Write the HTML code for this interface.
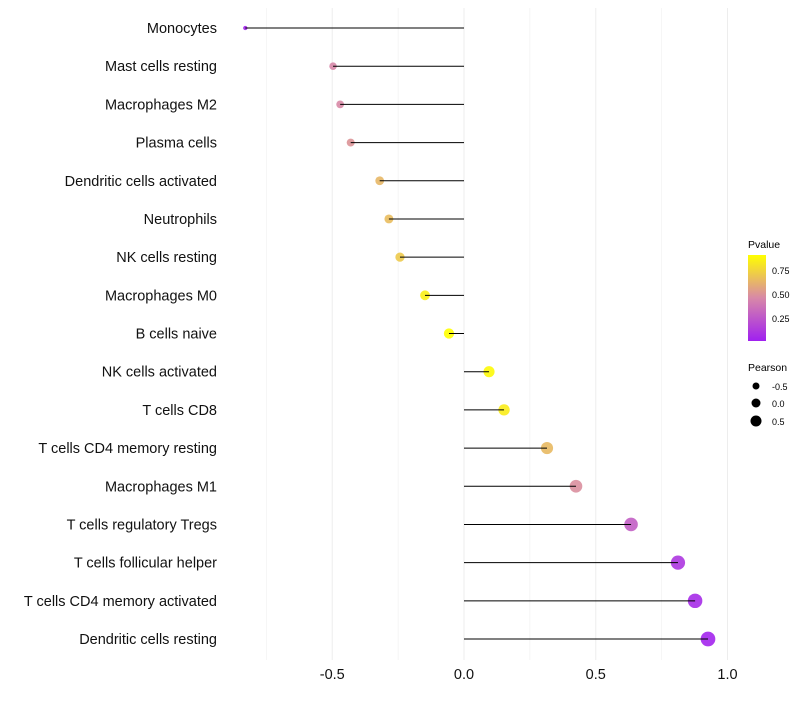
<!DOCTYPE html>
<html><head><meta charset="utf-8"><style>
body{margin:0;background:#fff;font-family:"Liberation Sans",sans-serif}
</style></head><body>
<svg id="chart" width="800" height="700">
<defs><linearGradient id="pg" x1="0" y1="1" x2="0" y2="0">
<stop offset="0" stop-color="#a020f0"/><stop offset="0.5" stop-color="#d888a8"/><stop offset="1" stop-color="#ffff00"/>
</linearGradient></defs>
<g id="grid"></g><g id="dots"></g><g id="marks"></g><g id="labels"></g>
<g font-size="10">
<text x="748" y="248" font-size="10.5">Pvalue</text>
<rect x="748" y="255" width="18" height="86" fill="url(#pg)"/>
<text x="772" y="274" font-size="9">0.75</text><text x="772" y="298" font-size="9">0.50</text><text x="772" y="322" font-size="9">0.25</text>
<text x="748" y="371" font-size="10.5">Pearson</text>
<circle cx="756" cy="386" r="3.5" fill="#000"/><text x="772" y="390" font-size="9">-0.5</text>
<circle cx="756" cy="403" r="4.5" fill="#000"/><text x="772" y="407" font-size="9">0.0</text>
<circle cx="756" cy="421" r="5.5" fill="#000"/><text x="772" y="425" font-size="9">0.5</text>
</g>
</svg>
<script>
const cells=["Monocytes","Mast cells resting","Macrophages M2","Plasma cells","Dendritic cells activated","Neutrophils","NK cells resting","Macrophages M0","B cells naive","NK cells activated","T cells CD8","T cells CD4 memory resting","Macrophages M1","T cells regulatory  Tregs ","T cells follicular helper","T cells CD4 memory activated","Dendritic cells resting"];
const pearson=[-0.83,-0.497,-0.47,-0.43,-0.32,-0.285,-0.243,-0.148,-0.057,0.095,0.152,0.315,0.425,0.634,0.812,0.877,0.926];
const pvalue=[0.05,0.47,0.48,0.52,0.65,0.67,0.72,0.86,0.95,0.9,0.85,0.66,0.5,0.3,0.13,0.08,0.05];
const xTicks=[-0.5,0,0.5,1.0];
const xTickLabels=["-0.5","0.0","0.5","1.0"];
const NS="http://www.w3.org/2000/svg";
function xs(v){return 464+v*263.5;}
function ys(i){return 28+i*(611/16);}
function rs(p){return Math.max(1.5,Math.sqrt(Math.max(0,28+28*p)));}
function mix(a,b,t){return a.map((v,i)=>Math.round(v+(b[i]-v)*t));}
function col(p){const t=Math.min(1,Math.max(0,(p-0.03)/0.89));const A=[160,32,240],M=[216,136,168],B=[255,255,0];
const c=t<0.5?mix(A,M,t*2):mix(M,B,(t-0.5)*2);return `rgb(${c})`;}
function el(t,a,p){const e=document.createElementNS(NS,t);for(const k in a)e.setAttribute(k,a[k]);p.appendChild(e);return e;}
const grid=document.getElementById('grid'),marks=document.getElementById('marks'),dots=document.getElementById('dots'),labels=document.getElementById('labels');
[-0.75,-0.25,0.25,0.75].forEach(v=>{const l=el('line',{x1:xs(v),x2:xs(v),y1:8,y2:660,stroke:'#f2f2f2','stroke-width':0.7},grid);

});
xTicks.forEach((v,i)=>{const l=el('line',{x1:xs(v),x2:xs(v),y1:8,y2:660,stroke:'#ededed','stroke-width':1},grid);


const t=el('text',{x:xs(v),y:679,'text-anchor':'middle','font-size':14.5,fill:'#111'},labels);t.textContent=xTickLabels[i];

});
cells.forEach((c,i)=>{const y=ys(i);
const d=el('circle',{cx:xs(pearson[i]),cy:y,r:rs(pearson[i]),fill:col(pvalue[i]),'fill-opacity':0.9},dots);


const s=el('line',{x1:xs(0),x2:xs(pearson[i]),y1:y,y2:y,stroke:'#000','stroke-width':1},marks);


const t=el('text',{x:217,y:y+5,'text-anchor':'end','font-size':14.5,fill:'#111'},labels);t.textContent=c;

});
</script>
</body></html>
